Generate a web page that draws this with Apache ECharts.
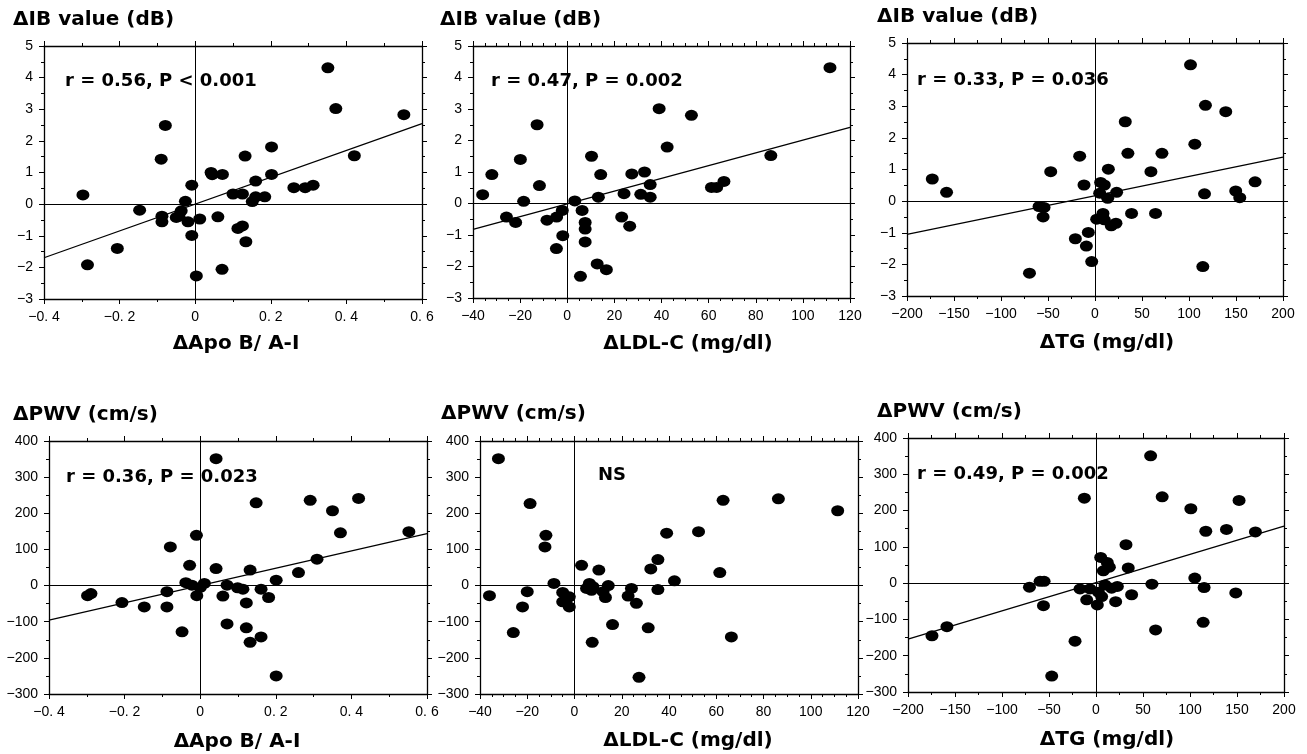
<!DOCTYPE html>
<html><head><meta charset="utf-8">
<script src="https://cdn.jsdelivr.net/npm/echarts@6/dist/echarts.min.js"></script>
<style>html,body{margin:0;padding:0;background:#fff}#c{width:1307px;height:754px}</style>
</head><body><div id="c"></div>
<script>
// ---- data ----
const ibApoX = [0.351,0.372,0.552,-0.079,-0.090,0.202,0.132,0.421,0.042,0.045,0.072,0.202,0.160,-0.009,-0.297,0.261,0.291,0.312,0.100,0.125,0.160,0.184,0.151,-0.026,-0.147,-0.037,-0.043,-0.050,-0.088,-0.088,-0.019,0.012,0.060,-0.009,0.113,0.125,0.134,-0.206,-0.285,0.003,0.071];
const ibApoY = [4.31,3.02,2.83,2.49,1.42,1.81,1.52,1.53,1.00,0.93,0.94,0.94,0.73,0.60,0.29,0.52,0.52,0.60,0.32,0.32,0.23,0.23,0.08,0.09,-0.19,-0.21,-0.38,-0.42,-0.38,-0.56,-0.56,-0.47,-0.40,-0.99,-0.77,-0.69,-1.19,-1.40,-1.92,-2.27,-2.06];

const ibLdlX = [111.5,39.0,52.7,-12.8,42.4,10.3,86.4,-19.9,-32.0,14.2,27.4,32.8,-11.8,35.2,61.2,63.4,66.5,-35.9,24.1,31.2,13.2,35.2,-18.5,3.2,-2.1,6.3,-25.8,-21.9,-8.6,-4.5,7.6,7.6,23.1,26.5,-1.9,7.6,-4.6,12.7,16.6,5.6];
const ibLdlY = [4.31,3.01,2.80,2.50,1.79,1.50,1.52,1.40,0.92,0.92,0.94,1.00,0.57,0.60,0.51,0.51,0.70,0.28,0.31,0.29,0.20,0.20,0.07,0.08,-0.22,-0.22,-0.43,-0.60,-0.53,-0.43,-0.60,-0.81,-0.43,-0.72,-1.02,-1.22,-1.43,-1.92,-2.10,-2.31];

const ibTgX = [101.6,117.5,139.1,32.2,106.2,35.0,71.2,-16.3,-47.1,14.2,59.5,-173.1,170.3,-11.7,6.0,9.9,-157.9,23.0,5.0,116.5,149.7,154.0,13.5,-59.5,-54.2,-55.2,38.9,64.4,8.5,1.8,9.9,17.3,22.3,-7.1,-20.9,-9.2,-3.5,-69.7,114.7];
const ibTgY = [4.31,3.03,2.83,2.51,1.80,1.51,1.51,1.42,0.93,1.01,0.93,0.70,0.61,0.51,0.59,0.51,0.28,0.28,0.25,0.23,0.32,0.11,0.09,-0.17,-0.20,-0.50,-0.39,-0.39,-0.39,-0.57,-0.59,-0.78,-0.70,-0.99,-1.19,-1.42,-1.91,-2.28,-2.07];

const pwvApoX = [0.042,0.148,0.291,0.419,0.350,0.371,0.552,-0.010,-0.079,0.309,-0.028,0.042,0.132,0.260,0.201,-0.038,-0.022,0.011,0.000,0.071,0.099,0.113,0.161,-0.009,0.060,0.181,-0.298,-0.289,-0.088,0.122,-0.207,-0.148,-0.088,0.071,0.122,-0.048,0.161,0.132,0.201];
const pwvApoY = [351,229,236,241,207,146,149,139,107,73,56,47,43,36,15,8,1,6,-5,1,-6,-10,-10,-28,-29,-33,-28,-22,-17,-48,-47,-59,-59,-106,-117,-128,-142,-157,-250];

const pwvLdlX = [-32.2,-18.8,-12.1,-12.5,111.4,86.3,62.9,52.5,39.0,35.3,32.3,3.0,10.3,61.5,42.3,-8.7,6.3,7.8,14.3,5.1,7.2,24.1,35.3,12.1,13.1,22.7,26.2,-5.0,-2.2,-5.0,-2.2,-36.0,-20.0,-22.0,-25.9,16.1,31.2,7.5,66.4,27.3];
const pwvLdlY = [351,227,139,107,207,240,236,149,145,72,46,56,43,36,13,6,6,-3,0,-8,-13,-8,-11,-17,-33,-29,-49,-19,-31,-45,-59,-28,-17,-59,-130,-108,-117,-157,-142,-254];

const pwvTgX = [58.1,-12.4,70.4,100.9,152.2,116.8,138.8,169.6,31.9,5.0,12.0,14.2,7.8,34.3,105.1,59.5,-59.5,-55.2,-70.8,115.0,148.7,-17.0,-6.4,9.6,16.6,22.7,2.5,6.0,-9.9,20.9,1.4,37.9,-55.9,114.0,63.4,-22.3,-47.1,-174.5,-158.6];
const pwvTgY = [351,234,238,205,228,143,148,141,106,71,57,44,34,42,14,-3,5,5,-11,-12,-27,-16,-16,-5,-14,-9,-25,-37,-46,-51,-60,-32,-62,-108,-129,-160,-256,-145,-120];

// regression lines (slope, intercept); null = no line
const fitSlopes = [4.24, 0.02025, 0.0061, 239.5, null, 0.7775];
const fitIntercepts = [0.0, -0.01, 0.17, 0.3, null, 1.5];

const statLabels = ['r = 0.56, P < 0.001','r = 0.47, P = 0.002','r = 0.33, P = 0.036','r = 0.36, P = 0.023','NS','r = 0.49, P = 0.002'];
const yTitles = ['\u0394IB value (dB)','\u0394IB value (dB)','\u0394IB value (dB)','\u0394PWV (cm/s)','\u0394PWV (cm/s)','\u0394PWV (cm/s)'];
const xTitles = ['\u0394Apo B/ A-I','\u0394LDL-C (mg/dl)','\u0394TG (mg/dl)','\u0394Apo B/ A-I','\u0394LDL-C (mg/dl)','\u0394TG (mg/dl)'];

// axis scales: [min, max, interval, minorSplit]
const xScales = [[-0.4,0.6,0.2,2],[-40,120,20,4],[-200,200,50,2],[-0.4,0.6,0.2,2],[-40,120,20,4],[-200,200,50,2]];
const yScales = [[-3,5,1,2],[-3,5,1,2],[-3,5,1,2],[-300,400,100,2],[-300,400,100,2],[-300,400,100,2]];

// ---- layout ----
const grids = [
  {left:44, top:46, width:378, height:253},
  {left:473, top:46, width:377, height:252},
  {left:907, top:43, width:376, height:253},
  {left:49, top:441, width:378, height:253},
  {left:480, top:441, width:378, height:253},
  {left:908, top:438, width:376, height:254}
];
const statPos = [[65,81],[491,81],[917,80],[66,477],[598,475],[917,474]];
const yTitlePos = [[13,20],[440,20],[877,17],[13,415],[441,414],[877,412]];
const xTitlePos = [[236,344],[688,344],[1107,343],[237,742],[688,741],[1107,740]];

const series = [[ibApoX,ibApoY],[ibLdlX,ibLdlY],[ibTgX,ibTgY],[pwvApoX,pwvApoY],[pwvLdlX,pwvLdlY],[pwvTgX,pwvTgY]];

const TICKFONT = "'Liberation Sans',Arial,sans-serif";
const TITLEFONT = "'DejaVu Sans','Liberation Sans',Arial,sans-serif";
const BLACK = '#000';

function fmtApo(v){ if (Math.abs(v) < 1e-9) return '0'; return (v<0?'\u2212':'') + Math.abs(v).toFixed(1).replace('.', '. '); }
function fmtNum(v){ if (Math.abs(v) < 1e-9) return '0'; return (v<0?'\u2212':'') + Math.abs(Math.round(v)); }

const xAxes = [], yAxes = [], seriesList = [], graphics = [];
grids.forEach((g, i) => {
  const xs = xScales[i], ys = yScales[i];
  const fx = (i % 3 === 0) ? fmtApo : fmtNum;
  const common = (sc, pos, label, fmt, margin) => ({
    gridIndex: i, type: 'value', min: sc[0], max: sc[1], interval: sc[2], position: pos,
    axisLine: {show: true, onZero: false, lineStyle: {color: BLACK, width: 1.3}},
    axisTick: {show: true, inside: false, length: 5, lineStyle: {color: BLACK, width: 1}},
    minorTick: {show: true, splitNumber: sc[3], length: 3, lineStyle: {color: BLACK, width: 1}},
    splitLine: {show: false}, minorSplitLine: {show: false},
    axisLabel: {show: label, formatter: fmt, color: BLACK, fontSize: 14, fontFamily: TICKFONT, margin: margin}
  });
  xAxes.push(common(xs, 'bottom', true, fx, 11));
  xAxes.push(common(xs, 'top', false, fx, 8));
  yAxes.push(common(ys, 'left', true, fmtNum, 11));
  yAxes.push(common(ys, 'right', false, fmtNum, 8));

  const [X, Y] = series[i];
  seriesList.push({
    type: 'scatter', xAxisIndex: 2*i, yAxisIndex: 2*i,
    data: X.map((x, k) => [x, Y[k]]),
    symbol: 'circle', symbolSize: [13, 11],
    itemStyle: {color: BLACK, opacity: 1},
    silent: true,
    markLine: {
      silent: true, symbol: ['none','none'], label: {show: false},
      lineStyle: {color: BLACK, width: 1, type: 'solid'},
      data: [{xAxis: 0}, {yAxis: 0}]
    }
  });
  if (fitSlopes[i] !== null) {
    const a = fitSlopes[i], b = fitIntercepts[i];
    seriesList.push({
      type: 'line', xAxisIndex: 2*i, yAxisIndex: 2*i,
      data: [[xs[0], a*xs[0]+b], [xs[1], a*xs[1]+b]],
      symbol: 'none', silent: true,
      lineStyle: {color: BLACK, width: 1.3}
    });
  }
  graphics.push({type: 'text', x: statPos[i][0], y: statPos[i][1], silent: true,
    style: {text: statLabels[i], fill: BLACK, font: "bold 18px " + TITLEFONT, textAlign: 'left', textVerticalAlign: 'middle'}});
  graphics.push({type: 'text', x: yTitlePos[i][0], y: yTitlePos[i][1], silent: true,
    style: {text: yTitles[i], fill: BLACK, font: "bold 20px " + TITLEFONT, textAlign: 'left', textVerticalAlign: 'middle'}});
  graphics.push({type: 'text', x: xTitlePos[i][0], y: xTitlePos[i][1], silent: true,
    style: {text: xTitles[i], fill: BLACK, font: "bold 20px " + TITLEFONT, textAlign: 'center', textVerticalAlign: 'middle'}});
});

const chart = echarts.init(document.getElementById('c'), null, {renderer: 'canvas'});
chart.setOption({
  animation: false,
  backgroundColor: '#fff',
  grid: grids,
  xAxis: xAxes,
  yAxis: yAxes,
  series: seriesList,
  graphic: graphics
});
</script></body></html>
